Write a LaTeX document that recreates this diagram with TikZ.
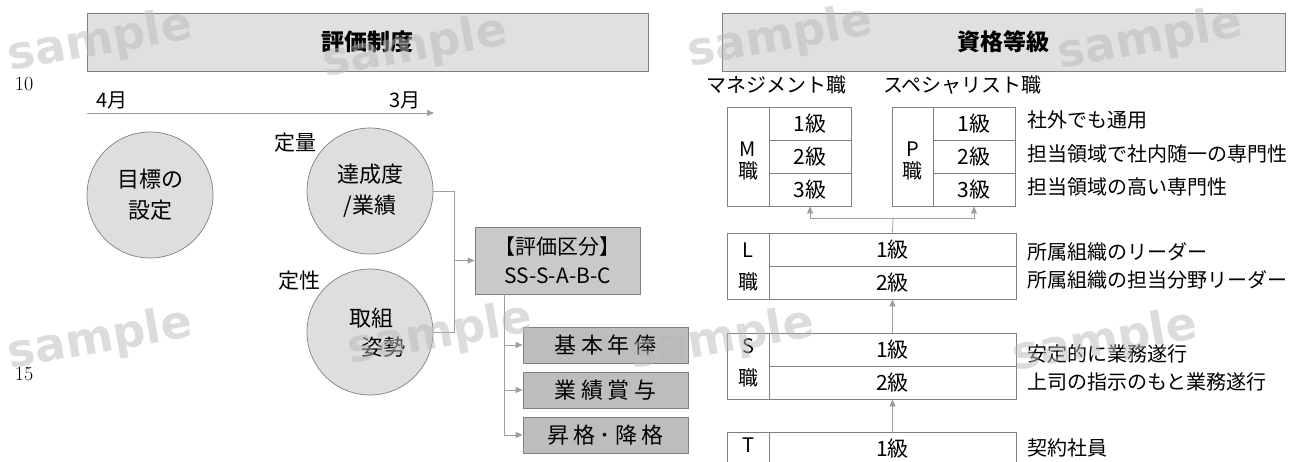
\documentclass[tikz,border=0pt]{standalone}
\usepackage{fontspec}
\newfontfamily\jp{Noto Sans CJK JP}
\newfontfamily\jpsp{Noto Sans CJK JP}[LetterSpace=20]
\newfontfamily\wmfont{DejaVu Sans}
\usetikzlibrary{arrows.meta}
\definecolor{circfill}{gray}{0.87}
\definecolor{hdrfill}{gray}{0.88}
\definecolor{kbfill}{gray}{0.79}
\definecolor{bfill}{gray}{0.74}
\definecolor{edge}{gray}{0.5}
\definecolor{conn}{gray}{0.62}
\begin{document}
\begin{tikzpicture}[x=1pt,y=-1pt,
  t20/.style={font=\jp\fontsize{20}{24}\selectfont, inner sep=0pt},
  t22/.style={font=\jp\fontsize{22}{31}\selectfont, inner sep=0pt, align=center},
  circ/.style={circle, draw=edge, fill=circfill, line width=0.7pt, minimum size=126pt, inner sep=0pt, t22},
  hdr/.style={draw=edge, fill=hdrfill, line width=0.8pt, minimum height=58pt, inner sep=0pt, font=\jp\bfseries\fontsize{23}{26}\selectfont},
  ln/.style={draw=conn, line width=0.8pt},
  arr/.style={ln, -{Triangle[length=7pt,width=6pt]}},
  kbox/.style={draw=edge, fill=kbfill, line width=0.8pt, minimum width=165pt, minimum height=67pt, inner sep=0pt, align=center, font=\jp\fontsize{21}{29}\selectfont},
  obox/.style={draw=edge, fill=bfill, line width=0.8pt, minimum width=165pt, minimum height=36pt, inner sep=0pt, font=\jpsp\fontsize{22}{26}\selectfont},
  cell/.style={draw=edge, line width=0.8pt, inner sep=0pt, minimum height=33pt, font=\jp\fontsize{21}{24}\selectfont},
  colt/.style={inner sep=0pt, align=center},
  desc/.style={anchor=west, inner sep=0pt, font=\jp\fontsize{20}{24}\selectfont},
  lnum/.style={inner sep=0pt, font=\rmfamily\fontsize{20}{21}\selectfont},
  wmk/.style={font=\wmfont\bfseries\fontsize{46}{46}\selectfont, text=gray!55, opacity=0.5, rotate=10, inner sep=0pt}
]
\useasboundingbox (0,0) rectangle (1306,461);
\clip (0,0) rectangle (1306,461);

% ---------------- left: 評価制度 ----------------
\node[hdr, minimum width=561pt] (h1) at (367.5,42) {評価制度};
\node[lnum] (n10) at (24,84) {10};
\node[lnum] (n15) at (24,374) {15};

\coordinate (tl0) at (87,113);
\coordinate (tl1) at (434,113);
\draw[arr] (tl0) -- (tl1);
\node[t20] (apr) at (112,100) {4月};
\node[t20] (mar) at (405,100) {3月};

\node[circ] (c1) at (150,195) {目標の\\設定};
\node[circ] (c2) at (370,191) {達成度\\/業績};
\node[circ] (c3) at (370,332) {};
\node[t22] (c3a) at (371,318) {取組};
\node[t22] (c3b) at (383,347) {姿勢};
\node[t20, font=\jp\fontsize{21}{24}\selectfont] (teiryo) at (295,143) {定量};
\node[t20, font=\jp\fontsize{21}{24}\selectfont] (teisei) at (299,281) {定性};

\node[kbox] (kb) at (557.5,260.5) {【評価区分】\\SS-S-A-B-C};
\coordinate (j1) at (454,191);
\coordinate (j2) at (454,332);
\coordinate (j3) at (454,260.5);
\draw[ln] (c2.east) -- (j1) -- (j2) -- (c3.east);
\draw[arr] (j3) -- (kb.west);

\node[obox] (b1) at (605.5,345) {基本年俸};
\node[obox] (b2) at (605.5,390) {業績賞与};
\node[obox] (b3) at (605.5,435) {昇格･降格};
\coordinate (v0) at (504,294);
\coordinate (v1) at (504,345);
\coordinate (v2) at (504,390);
\coordinate (v3) at (504,435);
\draw[ln] (v0) -- (v3);
\draw[arr] (v1) -- (b1.west);
\draw[arr] (v2) -- (b2.west);
\draw[arr] (v3) -- (b3.west);

% ---------------- right: 資格等級 ----------------
\node[hdr, minimum width=563pt] (h2) at (1003.5,42) {資格等級};
\node[t20] (mgr) at (776.5,85) {マネジメント職};
\node[t20] (spc) at (962.5,85) {スペシャリスト職};

% M
\node[cell, minimum width=42pt, minimum height=99pt] (mcol) at (748,156.5) {};
\node[colt, font=\jp\fontsize{20}{22}\selectfont] (mcolt) at (748,160.5) {M\\職};
\node[cell, minimum width=82pt] (m1) at (810,123.5) {1級};
\node[cell, minimum width=82pt] (m2) at (810,156.5) {2級};
\node[cell, minimum width=82pt] (m3) at (810,189.5) {3級};
% P
\node[cell, minimum width=41pt, minimum height=99pt] (pcol) at (912.5,156.5) {};
\node[colt, font=\jp\fontsize{20}{22}\selectfont] (pcolt) at (912.5,160.5) {P\\職};
\node[cell, minimum width=82pt] (p1) at (974,123.5) {1級};
\node[cell, minimum width=82pt] (p2) at (974,156.5) {2級};
\node[cell, minimum width=82pt] (p3) at (974,189.5) {3級};

% L
\node[cell, minimum width=42pt, minimum height=66pt] (lcol) at (748,266) {};
\node[colt, font=\jp\fontsize{20}{32}\selectfont] (lcolt) at (748,267) {L\\職};
\node[cell, minimum width=247pt] (l1) at (892.5,249.5) {1級};
\node[cell, minimum width=247pt] (l2) at (892.5,282.5) {2級};
% S
\node[cell, minimum width=42pt, minimum height=66pt] (scol) at (748,366) {};
\node[colt, font=\jp\fontsize{20}{32}\selectfont] (scolt) at (748,362.5) {S\\職};
\node[cell, minimum width=247pt] (s1) at (892.5,349.5) {1級};
\node[cell, minimum width=247pt] (s2) at (892.5,382.5) {2級};
% T
\node[cell, minimum width=42pt] (tcol) at (748,448.5) {};
\node[colt, font=\jp\fontsize{20}{24}\selectfont] (tcolt) at (748,445) {T};
\node[cell, minimum width=247pt] (t1) at (892.5,448.5) {1級};

% connectors
\coordinate (mp) at (893,218);
\draw[ln] (l1.north) -- (mp);
\draw[arr] (mp) -| (m3.south);
\draw[arr] (mp) -| (p3.south);
\draw[arr] (s1.north) -- (l2.south);
\draw[arr] (t1.north) -- (s2.south);

% descriptions
\node[desc] (d1) at (1027,120) {社外でも通用};
\node[desc] (d2) at (1027,154) {担当領域で社内随一の専門性};
\node[desc] (d3) at (1027,187) {担当領域の高い専門性};
\node[desc] (d4) at (1027,252) {所属組織のリーダー};
\node[desc] (d5) at (1027,280) {所属組織の担当分野リーダー};
\node[desc] (d6) at (1027,354) {安定的に業務遂行};
\node[desc] (d7) at (1027,382) {上司の指示のもと業務遂行};
\node[desc] (d8) at (1027,448) {契約社員};

% watermarks
\node[wmk] (w1) at (100,42) {sample};
\node[wmk] (w2) at (415,48) {sample};
\node[wmk] (w3) at (780,38) {sample};
\node[wmk] (w4) at (1150,40) {sample};
\node[wmk] (w5) at (100,340) {sample};
\node[wmk] (w6) at (440,335) {sample};
\node[wmk] (w7) at (722,340) {sample};
\node[wmk] (w8) at (1105,342) {sample};
\end{tikzpicture}
\end{document}
